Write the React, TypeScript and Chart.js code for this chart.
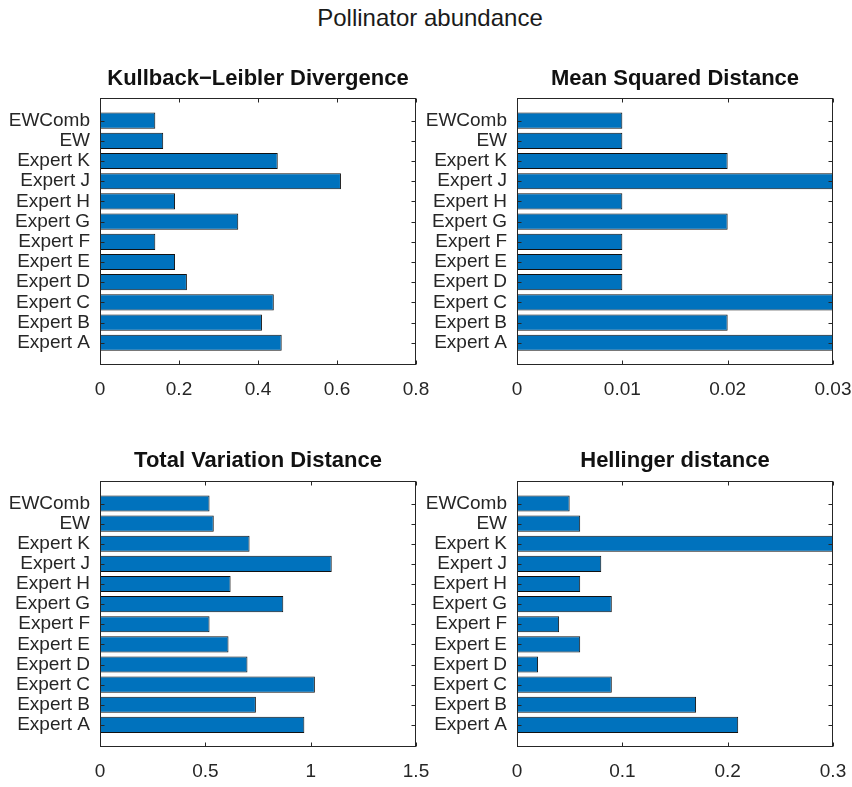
import React, { useEffect, useRef } from 'react';
import { Chart, registerables } from 'chart.js';

Chart.register(...registerables);

// categories from bottom to top, the way barh draws them
const categories = ['Expert A', 'Expert B', 'Expert C', 'Expert D', 'Expert E', 'Expert F', 'Expert G', 'Expert H', 'Expert J', 'Expert K', 'EW', 'EWComb'];

const klValues = [0.46, 0.41, 0.44, 0.22, 0.19, 0.14, 0.35, 0.19, 0.61, 0.45, 0.16, 0.14];
const msdValues = [0.03, 0.02, 0.03, 0.01, 0.01, 0.01, 0.02, 0.01, 0.03, 0.02, 0.01, 0.01];
const tvdValues = [0.97, 0.74, 1.02, 0.7, 0.61, 0.52, 0.87, 0.62, 1.1, 0.71, 0.54, 0.52];
const hellingerValues = [0.21, 0.17, 0.09, 0.02, 0.06, 0.04, 0.09, 0.06, 0.08, 0.3, 0.06, 0.05];

const klTicks = [0, 0.2, 0.4, 0.6, 0.8];
const msdTicks = [0, 0.01, 0.02, 0.03];
const tvdTicks = [0, 0.5, 1, 1.5];
const hellingerTicks = [0, 0.1, 0.2, 0.3];

const FONT = '"Liberation Sans", Arial, Helvetica, sans-serif';
const AXIS_COLOR = '#262626';

// box around the axes plus inward tick marks on all four sides (matlab style)
const framePlugin = {
  id: 'matlabFrame',
  afterDatasetsDraw(chart: Chart) {
    const { ctx, chartArea: a, scales } = chart;
    const l = Math.round(a.left) + 0.5;
    const r = Math.round(a.right) - 0.5;
    const t = Math.round(a.top) + 0.5;
    const b = Math.round(a.bottom) - 0.5;
    ctx.save();
    ctx.strokeStyle = AXIS_COLOR;
    ctx.lineWidth = 1;
    ctx.beginPath();
    scales.x.ticks.forEach((tk) => {
      const px = Math.round(scales.x.getPixelForValue(tk.value)) + 0.5;
      ctx.moveTo(px, b);
      ctx.lineTo(px, b - 4);
      ctx.moveTo(px, t);
      ctx.lineTo(px, t + 4);
    });
    scales.y.ticks.forEach((tk) => {
      const py = Math.round(scales.y.getPixelForValue(tk.value)) + 0.5;
      ctx.moveTo(l, py);
      ctx.lineTo(l + 4, py);
      ctx.moveTo(r, py);
      ctx.lineTo(r - 4, py);
    });
    ctx.stroke();
    ctx.strokeRect(l, t, r - l, b - t);
    ctx.restore();
  },
};

interface PanelProps {
  title: string;
  values: number[];
  xTicks: number[];
  box: { left: number; top: number; width: number; height: number };
  area: { left: number; top: number; right: number; bottom: number };
}

const BarPanel: React.FC<PanelProps> = ({ title, values, xTicks, box, area }) => {
  const canvasRef = useRef<HTMLCanvasElement>(null);

  useEffect(() => {
    if (!canvasRef.current) return;
    const yAxisWidth = area.left - box.left;
    const padRight = box.left + box.width - area.right;
    const xAxisHeight = box.top + box.height - area.bottom;
    const titleFont = 22;
    const titleGap = area.top - box.top - titleFont * 1.2;

    const chart = new Chart(canvasRef.current, {
      type: 'bar',
      data: {
        datasets: [{
          data: values.map((v, i) => ({ x: v, y: i + 1 })),
          backgroundColor: '#0072BD',
          borderColor: '#111111',
          borderWidth: 1,
          borderSkipped: false,
          barPercentage: 0.8,
          categoryPercentage: 1,
        }],
      },
      options: {
        indexAxis: 'y',
        responsive: false,
        animation: false,
        layout: { padding: { left: 0, right: padRight, top: 0, bottom: 0 } },
        scales: {
          x: {
            type: 'linear',
            min: xTicks[0],
            max: xTicks[xTicks.length - 1],
            afterBuildTicks: (scale) => { scale.ticks = xTicks.map(v => ({ value: v })); },
            afterFit: (scale) => {
              scale.height = xAxisHeight;
              scale.paddingLeft = 0;
              scale.paddingRight = 0;
            },
            grid: { display: false, drawTicks: false },
            border: { display: false },
            ticks: {
              color: AXIS_COLOR,
              font: { family: FONT, size: 19 },
              padding: 13,
              maxRotation: 0,
              callback: (v) => String(v),
            },
          },
          y: {
            type: 'linear',
            offset: false,
            min: -0.1,
            max: 13.12,
            afterBuildTicks: (scale) => { scale.ticks = categories.map((_, i) => ({ value: i + 1 })); },
            afterFit: (scale) => {
              scale.width = yAxisWidth;
              scale.paddingTop = 0;
              scale.paddingBottom = 0;
            },
            grid: { display: false, drawTicks: false },
            border: { display: false },
            ticks: {
              color: AXIS_COLOR,
              font: { family: FONT, size: 19 },
              padding: 10,
              autoSkip: false,
              callback: (v) => categories[Number(v) - 1] ?? '',
            },
          },
        },
        plugins: {
          legend: { display: false },
          tooltip: { enabled: false },
          title: {
            display: true,
            text: title,
            fullSize: false,
            color: '#111111',
            font: { family: FONT, size: titleFont, weight: 'bold', lineHeight: 1.2 },
            padding: { top: 0, bottom: titleGap },
          },
        },
      },
      plugins: [framePlugin],
    });

    return () => {
      chart.destroy();
    };
  }, [title, values, xTicks, box, area]);

  return (
    <div style={{ position: 'absolute', left: box.left, top: box.top, width: box.width, height: box.height }}>
      <canvas ref={canvasRef} width={box.width} height={box.height} role="img" aria-label={title}></canvas>
    </div>
  );
};

const panels: PanelProps[] = [
  {
    title: 'Kullback\u2212Leibler Divergence', values: klValues, xTicks: klTicks,
    box: { left: 0, top: 66, width: 436, height: 344 },
    area: { left: 100, top: 98, right: 416, bottom: 365 },
  },
  {
    title: 'Mean Squared Distance', values: msdValues, xTicks: msdTicks,
    box: { left: 410, top: 66, width: 442, height: 344 },
    area: { left: 517, top: 98, right: 833, bottom: 365 },
  },
  {
    title: 'Total Variation Distance', values: tvdValues, xTicks: tvdTicks,
    box: { left: 0, top: 448, width: 436, height: 339 },
    area: { left: 100, top: 481, right: 416, bottom: 747 },
  },
  {
    title: 'Hellinger distance', values: hellingerValues, xTicks: hellingerTicks,
    box: { left: 410, top: 448, width: 442, height: 339 },
    area: { left: 517, top: 481, right: 833, bottom: 747 },
  },
];

export default function App() {
  return (
    <div style={{ position: 'absolute', left: 0, top: 0, width: 852, height: 787, background: '#ffffff', overflow: 'hidden' }}>
      <div style={{
        position: 'absolute', left: 0, top: 6, width: 860, textAlign: 'center',
        fontFamily: FONT, fontSize: 24, lineHeight: '24px', color: '#1a1a1a',
      }}>
        Pollinator abundance
      </div>
      {panels.map(p => <BarPanel key={p.title} {...p} />)}
    </div>
  );
}
